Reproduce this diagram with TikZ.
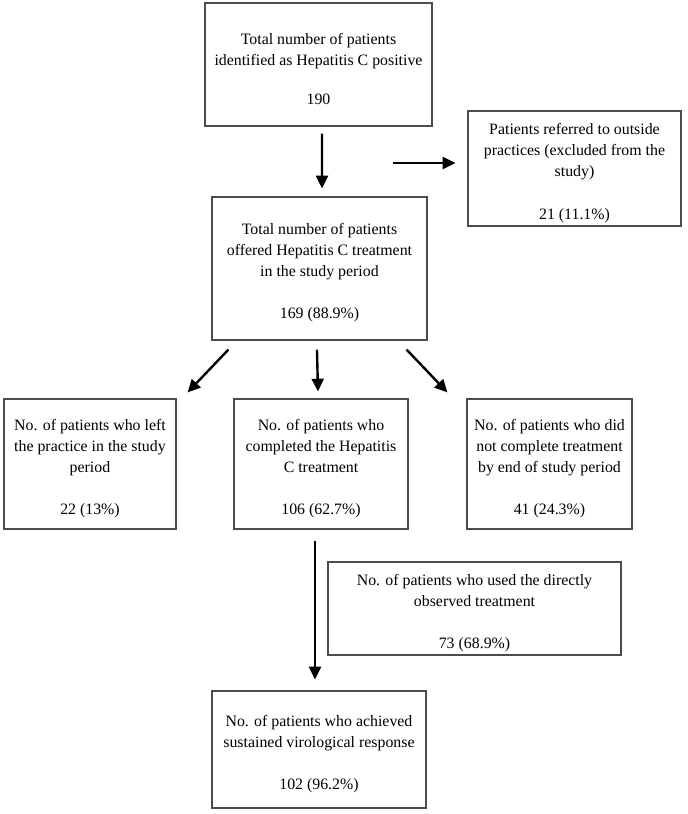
\documentclass[tikz,border=0pt]{standalone}
\usepackage{fontspec}
\setmainfont{Liberation Serif}
\usetikzlibrary{arrows.meta}
\begin{document}
\begin{tikzpicture}[x=0.75pt,y=-0.75pt,
  box/.style={draw=black!70, line width=0.9pt, inner sep=0pt},
  txt/.style={align=center, inner sep=0pt, font=\fontsize{11.9pt}{15.8pt}\selectfont},
  arr/.style={line width=1.8pt, -{Triangle[length=9.5pt,width=9pt]}}]
\useasboundingbox (0,0) rectangle (688,814);
\node[box, minimum width=170.25pt, minimum height=92.25pt] (b1) at (318.5,64.5) {};
\node[txt] (b1t) at ([yshift=-3.6pt]b1.center)
  {Total number of patients\\identified as Hepatitis C positive\\[13.5pt]190};
\node[box, minimum width=159.75pt, minimum height=86.25pt] (ref) at (574.5,168.5) {};
\node[txt] (reft) at ([yshift=-3.4pt]ref.center)
  {Patients referred to outside\\practices (excluded from the\\study)\\[15.8pt]21 (11.1\%)};
\node[box, minimum width=161.25pt, minimum height=107.25pt] (b2) at (319.5,268.5) {};
\node[txt] (b2t) at ([yshift=-3.2pt]b2.center)
  {Total number of patients\\offered Hepatitis C treatment\\in the study period\\[15.8pt]169 (88.9\%)};
\node[box, minimum width=129pt, minimum height=97.5pt] (left) at (90,464) {};
\node[txt] (leftt) at ([yshift=-3.2pt]left.center)
  {No. of patients who left\\the practice in the study\\period\\[15.8pt]22 (13\%)};
\node[box, minimum width=130.5pt, minimum height=97.5pt] (mid) at (321,464) {};
\node[txt] (midt) at ([yshift=-3.2pt]mid.center)
  {No. of patients who\\completed the Hepatitis\\C treatment\\[15.8pt]106 (62.7\%)};
\node[box, minimum width=123.75pt, minimum height=97.5pt] (right) at (549.5,464) {};
\node[txt] (rightt) at ([yshift=-3.2pt]right.center)
  {No. of patients who did\\not complete treatment\\by end of study period\\[15.8pt]41 (24.3\%)};
\node[box, minimum width=219.75pt, minimum height=69.75pt] (dot) at (474.5,608.5) {};
\node[txt] (dott) at ([yshift=-3.6pt]dot.center)
  {No. of patients who used the directly\\observed treatment\\[15.8pt]73 (68.9\%)};
\node[box, minimum width=160.5pt, minimum height=87.75pt] (final) at (319,749.5) {};
\node[txt] (finalt) at ([yshift=-3.2pt]final.center)
  {No. of patients who achieved\\sustained virological response\\[15.8pt]102 (96.2\%)};
\coordinate (exc) at (393,163);
\draw[arr] ([xshift=2.6pt,yshift=-5.25pt]b1.south) -- ([xshift=1.9pt,yshift=6pt]b2.north);
\draw[arr, shorten >=9pt] (exc) -- (exc -| ref.west);
\draw[arr] ([xshift=12.75pt,yshift=-6.75pt]b2.south west) -- ([xshift=8.25pt,yshift=4.5pt]left.north east);
\draw[arr] ([xshift=-1.9pt,yshift=-6.75pt]b2.south) -- ([xshift=-2.25pt,yshift=5.25pt]mid.north);
\draw[arr] ([xshift=-15.75pt,yshift=-6.75pt]b2.south east) -- ([xshift=-14.25pt,yshift=4.5pt]right.north west);
\draw[arr] ([xshift=-4.5pt,yshift=-8.25pt]mid.south) -- ([xshift=-3pt,yshift=8.25pt]final.north);
\end{tikzpicture}
\end{document}
